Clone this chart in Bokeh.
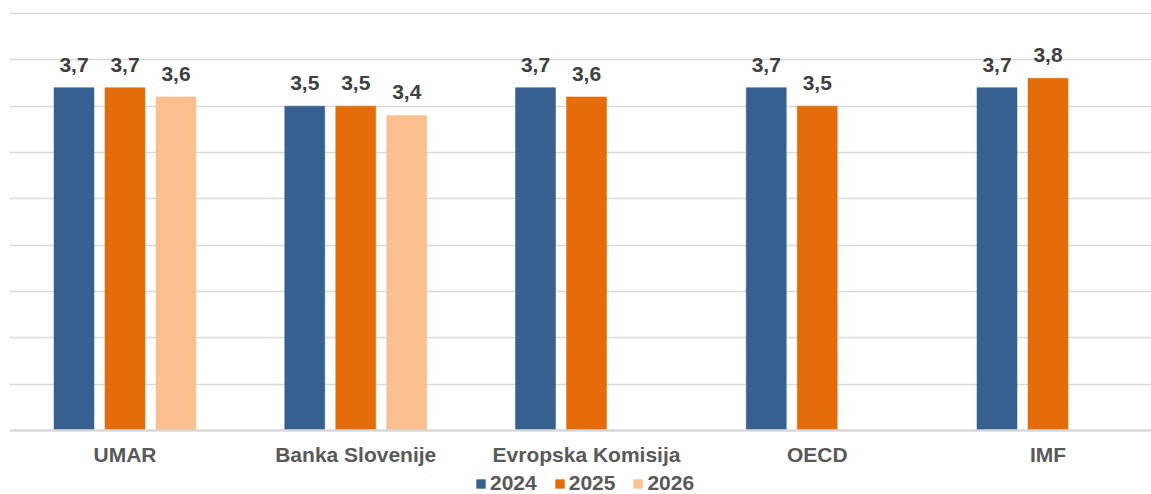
import numpy as np
from bokeh.plotting import figure
from bokeh.models import Range1d, FixedTicker, ColumnDataSource, Legend, LegendItem
from bokeh.core.properties import value
from bokeh.embed import file_html
from bokeh.resources import INLINE

categories = ["UMAR", "Banka Slovenije", "Evropska Komisija", "OECD", "IMF"]
series = ["2024", "2025", "2026"]
v2024 = [3.7, 3.5, 3.7, 3.7, 3.7]
v2025 = [3.7, 3.5, 3.6, 3.5, 3.8]
v2026 = [3.6, 3.4, None, None, None]
colors = ["#35608F", "#E46C0A", "#FAC090"]

FONT = "Liberation Sans"
offsets = [-0.221, 0.0, 0.221]
bar_w = 0.1733

# frame spans the full lower part of the figure; value 0 sits 64px above the bottom
px_per_unit = 417 / 4.5
y_top = 4.5 + 3 / px_per_unit
y_bottom = -64 / px_per_unit

p = figure(width=1151, height=494, output_backend="svg", toolbar_location=None,
           x_range=Range1d(-0.5005, 4.4485), y_range=Range1d(y_bottom, y_top),
           min_border_left=9, min_border_right=0, min_border_top=10, min_border_bottom=0)
p.outline_line_color = None
p.yaxis.visible = False
p.xgrid.grid_line_color = None
p.ygrid.ticker = FixedTicker(ticks=[0.5 * i for i in range(1, 10)])
p.ygrid.grid_line_color = "#D9D9D9"
p.ygrid.grid_line_width = 1.5

ax = p.xaxis[0]
ax.fixed_location = 0
ax.ticker = FixedTicker(ticks=list(range(len(categories))))
ax.major_label_overrides = {i: c for i, c in enumerate(categories)}
ax.major_tick_line_color = None
ax.minor_tick_line_color = None
ax.axis_line_color = "#D9D9D9"
ax.axis_line_width = 2.5
ax.major_label_text_font = FONT
ax.major_label_text_font_style = "bold"
ax.major_label_text_font_size = "21px"
ax.major_label_text_color = "#595959"
ax.major_label_standoff = 6

items = []
for s, vals, off, col in zip(series, [v2024, v2025, v2026], offsets, colors):
    xs, ys, labs = [], [], []
    for i, v in enumerate(vals):
        if v is None:
            continue
        xs.append(i + off)
        ys.append(v)
        labs.append(f"{v:.1f}".replace(".", ","))
    src = ColumnDataSource(dict(x=xs, top=ys, lab=labs))
    r = p.vbar(x="x", top="top", width=bar_w, bottom=0, source=src,
               fill_color=col, line_color=col, line_width=0.5)
    p.text(x="x", y="top", text="lab", source=src, text_align="center",
           text_baseline="alphabetic", y_offset=-23, text_font=value(FONT),
           text_font_style="bold", text_font_size="21px", text_color="#404040")
    items.append(LegendItem(label=s, renderers=[r]))

legend = Legend(items=items, orientation="horizontal", location=(466, -1),
                glyph_width=11, glyph_height=11, label_standoff=4, spacing=17,
                padding=0, margin=0, border_line_color=None, background_fill_alpha=0,
                label_text_font=FONT, label_text_font_style="bold",
                label_text_font_size="21px", label_text_color="#595959")
p.add_layout(legend, "center")

open("out.html", "w").write(file_html(p, INLINE))
